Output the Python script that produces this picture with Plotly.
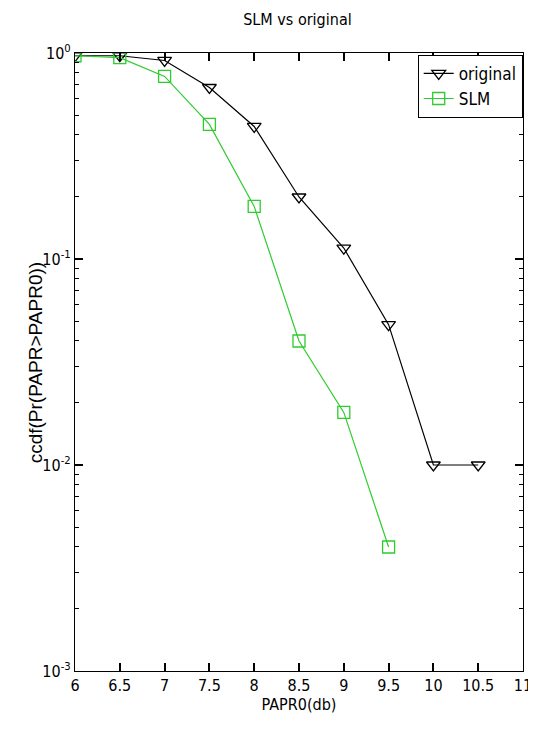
import plotly.graph_objects as go

papr0 = [6, 6.5, 7, 7.5, 8, 8.5, 9, 9.5, 10, 10.5]
original = [0.97, 0.97, 0.92, 0.68, 0.44, 0.20, 0.113, 0.048, 0.01, 0.01]
papr0_slm = [6, 6.5, 7, 7.5, 8, 8.5, 9, 9.5]
slm = [0.97, 0.95, 0.77, 0.45, 0.18, 0.04, 0.018, 0.004]

x_ticks = [6, 6.5, 7, 7.5, 8, 8.5, 9, 9.5, 10, 10.5, 11]
x_ticktext = ["6", "6.5", "7", "7.5", "8", "8.5", "9", "9.5", "10", "10.5", "11"]
y_ticks = [1e-3, 1e-2, 1e-1, 1]
y_ticktext = ["10<sup>-3</sup>", "10<sup>-2</sup>", "10<sup>-1</sup>", "10<sup>0</sup>"]

minor_y = [m * 10.0 ** e for e in (-3, -2, -1) for m in range(2, 10)]

narrow = "DejaVu Sans Condensed, Liberation Sans Narrow, Arial Narrow, Liberation Sans"

fig = go.Figure()
fig.add_trace(go.Scatter(
    x=papr0, y=original, name="original", mode="lines+markers",
    line=dict(color="black", width=1.2),
    marker=dict(symbol="triangle-down-open", size=12, color="black", line=dict(width=1.3)),
))
fig.add_trace(go.Scatter(
    x=papr0_slm, y=slm, name="SLM", mode="lines+markers",
    line=dict(color="#2ecc2e", width=1.2),
    marker=dict(symbol="square-open", size=12, color="#2ecc2e", line=dict(width=1.3)),
))

fig.update_layout(
    width=536, height=729,
    margin=dict(l=67, r=13, t=45, b=66),
    paper_bgcolor="white", plot_bgcolor="white",
    font=dict(family=narrow, size=16, color="black"),
    title=dict(text="SLM vs original", x=0.54, xanchor="center", y=0.985, yanchor="middle",
               font=dict(family=narrow, size=16, color="black")),
    showlegend=True,
    legend=dict(x=0.765, y=0.997, xanchor="left", yanchor="top",
                bgcolor="white", bordercolor="black", borderwidth=1,
                font=dict(family=narrow, size=17, color="black"),
                itemwidth=30, tracegroupgap=2),
    xaxis=dict(range=[6, 11], tickmode="array", tickvals=x_ticks, ticktext=x_ticktext,
               ticks="inside", ticklen=8, tickwidth=1.5, tickcolor="black",
               ticklabeloverflow="allow",
               showline=True, linecolor="black", linewidth=1.2, mirror="ticks",
               showgrid=False, zeroline=False, tickfont=dict(family=narrow, size=16),
               title=dict(text="PAPR0(db)", font=dict(family=narrow, size=16), standoff=4)),
    yaxis=dict(type="log", range=[-3, 0], tickmode="array", tickvals=y_ticks, ticktext=y_ticktext,
               ticks="inside", ticklen=8, tickwidth=1.5, tickcolor="black",
               showline=True, linecolor="black", linewidth=1.2, mirror="ticks",
               showgrid=False, zeroline=False,
               minor=dict(tickmode="array", tickvals=minor_y, ticks="inside", ticklen=4,
                          tickwidth=1.2, tickcolor="black", showgrid=False),
               tickfont=dict(family=narrow, size=16)),
    annotations=[dict(text="ccdf(Pr(PAPR>PAPR0))", textangle=-90, xref="paper", yref="paper",
                      x=-0.089, y=0.498, xanchor="center", yanchor="middle", showarrow=False,
                      font=dict(family="Liberation Sans, Arial", size=19, color="black"))],
)

fig.write_html("out.html")
